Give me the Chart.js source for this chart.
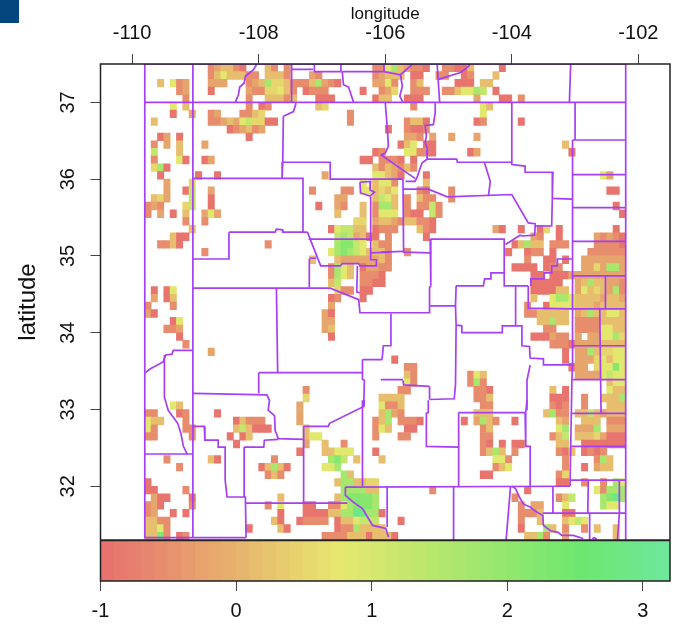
<!DOCTYPE html>
<html>
<head>
<meta charset="utf-8">
<title>latitude / longitude map</title>
<script src="https://cdn.jsdelivr.net/npm/chart.js@4"></script>
<style>
    html, body { margin: 0; padding: 0; background: #fff; }
    #corner { position: absolute; left: 0; top: 0; width: 19px; height: 23px; background: #04477f; }
    canvas { position: absolute; left: 0; }
    #mapChart { top: 0; }
    #scaleChart { top: 540px; }
</style>
</head>
<body>
<div id="corner"></div>
<canvas id="mapChart" width="679" height="540"></canvas>
<canvas id="scaleChart" width="679" height="87"></canvas>
<script>
// tick labels
const lonTicks = [-110, -108, -106, -104, -102];
const latTicks = [32, 33, 34, 35, 36, 37];
const scaleTicks = [-1, 0, 1, 2, 3];

// cell grid: 0.1 degree cells, col 0 is at westEdge, row 0 is at northEdge
const westEdge = -109.8;
const northEdge = 37.5;
const cellSize = 0.1;

// a digit in cellRows is an index into this list
const levelValues = [-0.9, -0.55, -0.2, 0.15, 0.5, 0.85, 1.3, 1.7, 2.2, 2.9];

// one string per row, "col:digits" runs
const cellRows = [
    "10:123310 19:31 22:1 36:11 38:57 40:32 42:11 44:0 47:1100 51:3 56:0",
    "10:135333 16:11 19:3 20:33 22:1 26:21 36:12 38:33 40:3 42:00 46:11 50:01 55:3",
    "2:3 4:5 5:12 10:222 16:1 17:2 18:3 19:7 20:44 22:3 23:111 26:3 27:7 28:2 29:10 36:2 37:2 38:5 39:1 42:13 49:000 53:33",
    "5:12 10:0 16:2 17:1 18:1 19:44 21:5 22:3 23:1 25:0 26:11 28:1 34:0 37:12 39:4 42:111 47:11 49:3 50:55 52:7 53:6 55:0",
    "6:1 16:1 19:33 21:3 22:1 23:3 27:000 36:0 37:33 41:000 52:2 56:00 59:1",
    "4:5 6:3 16:1 18:01 27:34 42:1 53:5 54:3",
    "4:0 7:2 10:12 15:11 17:34 32:1 53:5",
    "1:3 10:112 13:32 15:5 16:6 17:44 19:00 32:1 41:1 42:33 44:0 52:01 59:0",
    "13:01 15:2 16:3 17:1 18:2 38:0 41:1 42:00 44:1",
    "2:0 3:2 5:0 16:0 41:22 43:1 45:2 48:2 52:2",
    "1:1 3:2 5:3 9:2 40:0 41:3 42:5 44:00 66:3",
    "1:6 5:3 36:01 41:55 43:11 45:0 51:02 67:0",
    "1:1 5:5 6:0 9:0 10:2 34:00 37:1 38:110 42:0",
    "1:4 2:7 3:0 36:31 38:321 41:3 42:1",
    "2:0 8:0 11:0 28:2 36:5 37:5 38:3 39:2 40:0 44:0 72:52",
    "3:2 7:4 34:5 36:3 37:55 39:1 44:3",
    "3:2 6:0 7:6 10:2 26:1 31:11 34:55 36:3 37:4 38:3 39:5 43:10 48:1 73:00",
    "1:34 3:2 7:6 10:0 30:22 36:3 37:6 38:5 39:3 41:1 43:3 44:1 45:1 48:1",
    "0:121 6:46 10:0 27:0 30:21 34:3 36:1 37:77 39:3 41:1 43:11 45:6 46:1 74:0",
    "0:1 2:2 4:0 6:3 9:252 30:3 34:3 36:1 37:555 41:1 42:00 45:6 46:1 75:0",
    "6:1 9:1 33:44 36:2 37:33 39:2 40:1 41:33 43:11 45:0",
    "7:3 29:0 30:566 33:33 36:0 37:11 39:1 43:3 44:1 45:0 55:20 59:0 62:0 63:4 65:0 74:0",
    "4:3 5:00 30:676 33:23 35:00 38:1 44:0 61:21 65:0 71:21210",
    "2:11 4:3 5:0 19:1 30:7 31:88 33:6 34:5 36:3 37:11 58:0 59:3 60:7 61:33 64:11 66:1 71:11110",
    "9:1 29:5 30:7 31:8 32:7 33:6 34:5 35:33 37:31 41:1 57:0 60:011 64:0 70:111111",
    "26:3 30:322 33:222 36:2 37:3 38:1 60:1 63:00 66:0 69:2222222",
    "29:1 30:7 31:5 32:3 34:0 35:2 36:2 37:1 38:1 58:0000 63:011 69:22 71:4 72:2 73:77 75:2",
    "29:1 30:7 31:5 32:3 34:11 36:10 61:00 64:000 67:222222222",
    "29:3 30:6 34:11 36:00 61:00000 68:23733221",
    "1:0 3:0 4:5 30:4 31:11 34:00 61:0000 65:33 68:2 69:5 70:3 71:4 72:3 73:2 74:7 75:1",
    "1:2 3:0 4:3 29:0 30:1 34:0 61:3 64:5 65:77 67:5 68:33332332",
    "0:1 4:1 29:2 60:1 63:0 64:5555 68:33323333",
    "0:2 1:0 28:2 29:0 60:11 62:3333 66:3 68:2 69:3 70:7 71:3 72:3 73:55 75:3",
    "4:0 5:5 28:22 62:33 64:7 65:33 68:1111 72:3333",
    "3:11 5:2 28:23 63:11 68:1111 72:55 74:33",
    "5:0 29:0 61:000 64:2 65:11 68:2 70:2 71:2 72:55 74:7 75:4",
    "6:1 64:111 67:0 68:2222 72:3 73:333",
    "10:2 66:0 68:22 70:7 71:3 72:44 74:55",
    "39:0 66:0 68:222 71:4 72:5 73:3 74:55",
    "41:11 67:0 68:22 71:4 72:55 74:8 75:5",
    "41:31 51:1 52:5 53:3 68:2222 72:5 73:6 74:55",
    "41:51 51:1 52:7 53:1 73:3 74:5 75:5",
    "25:1 40:11 52:11 54:0 64:3 66:0 73:5 74:3 75:3",
    "25:4 37:3333 52:11 54:3 64:000 69:1 72:333 75:7",
    "4:5 5:3 24:2 37:5 38:1 39:1 40:3 53:11 64:101 69:1 73:333",
    "0:11 5:01 11:0 24:2 37:3 38:7 39:2 40:1 52:333 63:3 64:7 65:11 68:33 70:6 71:3 72:2 73:333",
    "0:5 1:3 2:3 6:1 14:0 15:3 16:111 24:2 36:1 37:3 38:7 40:111 43:0 50:0 52:2 53:7 54:3 55:1 58:0 65:3 66:2 69:333 73:111",
    "0:5 1:1 6:11 14:3 15:6 16:3 17:000 25:3 36:1 37:5 38:3 41:00 53:13 65:5 66:7 68:222 71:7 73:222",
    "0:11 7:1 13:0 15:0 16:3 25:3 26:55 36:1 40:11 53:11 64:1 65:3 66:6 68:333 71:4 72:2 73:000",
    "14:0 25:2 28:3 31:1 53:1 54:0 56:0 58:00 65:33 69:0000000",
    "24:0 28:33555 36:0 53:1 54:3 55:7 56:3 58:1 65:1 66:0 67:3 69:0101",
    "3:1 10:30 20:1 29:7 30:8 31:6 33:3 37:3 55:55 57:1 66:1 71:1 72:7 73:3",
    "5:1 18:0 19:3 20:7 21:3 22:0 28:55 30:7 55:1 56:3 57:5 66:1 69:0 71:2 72:33",
    "19:1 20:3 21:1 31:7 32:3 53:00 65:1 66:4",
    "0:0 30:3 31:77 33:3344 65:00 69:1 72:1 74:7 75:5",
    "0:00 6:1 31:777 34:7 35:33 45:1 60:0 71:5 72:1 73:777",
    "1:200 7:0 21:3 30:3 31:7 32:8888 36:7 58:1 65:13 67:6 72:7 73:89 75:7",
    "0:120 7:1 19:1 21:5 25:00 29:11 31:5 32:7 33:888 36:7 59:1 61:22 66:5 72:7 73:55",
    "0:12 4:0 6:0 21:0 25:0000 29:33 31:77 33:99 35:77 37:0 59:1 60:113 66:00",
    "0:33 2:11 20:3 21:0 24:01111 30:0 31:33 33:5 34:6 35:66 40:0 59:1 62:3 66:3 67:5 68:6 69:5",
    "0:33 2:5 3:1 16:0 21:3 22:0 30:011 33:7 34:333 37:3 59:0 63:73 66:1 69:1 71:3 74:3",
    "0:33 2:8 3:1 5:01 28:1111 32:333 35:0 36:333 39:0 60:33 62:7 63:1 66:2 74:3",
];

// county and state borders, "lon,lat lon,lat ..."
const borderLines = [
    "-109.80,37.50 -109.80,31.33 -108.20,31.33",
    "-109.80,37.50 -102.20,37.50 -102.20,31.30",
    "-109.80,37.00 -102.20,37.00",
    "-109.04,37.50 -109.04,31.33",
    "-108.03,37.50 -108.08,37.43 -108.21,37.34 -108.23,37.25 -108.30,37.20 -108.32,37.10 -108.37,37.00",
    "-107.48,37.50 -107.48,37.00",
    "-107.48,37.43 -107.14,37.43",
    "-107.12,37.50 -107.12,37.40 -106.70,37.40 -106.70,37.50",
    "-106.68,37.40 -106.66,37.23 -106.58,37.20 -106.50,37.00",
    "-106.68,37.40 -106.02,37.40 -105.76,37.36 -105.58,37.49",
    "-106.02,37.50 -106.02,37.40",
    "-105.76,37.36 -105.73,37.21 -105.77,37.08 -105.72,37.00",
    "-105.18,37.50 -105.14,37.00",
    "-105.16,37.30 -104.81,37.39 -104.68,37.47 -104.66,37.50",
    "-104.00,37.00 -104.00,36.19 -103.79,36.17 -103.79,36.09 -103.35,36.09 -103.36,35.75 -103.04,35.74",
    "-103.07,37.50 -103.09,37.00",
    "-103.00,37.00 -103.00,36.51",
    "-103.04,36.51 -102.20,36.51",
    "-103.04,36.51 -103.04,33.58 -103.05,33.39 -103.08,32.00",
    "-103.04,36.06 -102.20,36.06",
    "-103.04,35.63 -102.20,35.63",
    "-103.04,35.19 -102.20,35.19",
    "-103.04,34.74 -102.20,34.74",
    "-103.04,34.31 -102.20,34.31",
    "-103.04,33.83 -102.20,33.83",
    "-103.04,33.39 -102.20,33.39",
    "-103.05,32.95 -102.20,32.95",
    "-103.06,32.52 -102.20,32.52",
    "-103.07,32.08 -102.21,32.08",
    "-103.51,31.65 -102.20,31.65",
    "-102.52,34.74 -102.52,34.31",
    "-102.61,34.31 -102.59,32.95",
    "-102.30,32.08 -102.30,31.65 -102.33,31.30",
    "-102.79,32.08 -102.80,31.65",
    "-102.77,31.65 -102.77,31.30",
    "-103.35,32.00 -103.35,31.65",
    "-106.63,31.99 -103.08,32.00",
    "-104.92,32.00 -104.92,31.30",
    "-104.02,32.00 -104.09,31.30",
    "-105.97,32.00 -105.97,31.47",
    "-104.00,32.00 -103.94,31.97 -103.88,31.86 -103.82,31.77 -103.71,31.73 -103.60,31.66 -103.51,31.62 -103.50,31.49 -103.39,31.42 -103.27,31.40 -103.21,31.36 -103.03,31.36 -102.87,31.32",
    "-102.73,31.32 -102.69,31.33 -102.66,31.31",
    "-104.84,32.96 -103.79,32.96",
    "-104.84,32.96 -104.84,32.00",
    "-103.79,32.96 -103.78,32.52 -103.71,32.52 -103.71,32.00",
    "-105.32,33.12 -105.32,32.96 -105.35,32.95 -105.35,32.52 -104.84,32.51",
    "-103.76,33.12 -103.78,32.96",
    "-105.72,35.87 -105.32,35.87 -105.02,35.77 -104.00,35.80 -103.74,35.43 -103.63,35.42 -103.63,35.39 -103.37,35.39 -103.36,35.74",
    "-103.63,35.39 -103.64,35.27 -103.84,35.26 -103.87,35.27 -104.10,35.15",
    "-105.29,35.22 -104.12,35.22 -104.12,34.61 -103.74,34.61",
    "-105.29,35.22 -105.28,34.61 -105.30,34.59 -105.30,34.35",
    "-105.30,34.35 -104.89,34.35",
    "-104.88,34.61 -104.45,34.61 -104.43,34.70 -104.33,34.70 -104.33,34.78 -104.12,34.78",
    "-104.88,34.61 -104.89,34.35 -104.88,34.10 -104.79,34.09 -104.79,34.00 -104.15,34.00 -104.15,34.09 -103.84,34.09 -103.84,33.83 -103.72,33.82 -103.71,33.67 -103.50,33.66 -103.50,33.58 -103.04,33.58",
    "-103.94,34.61 -103.94,34.09",
    "-104.88,34.09 -104.89,33.32 -104.91,33.14 -105.30,33.13",
    "-105.30,33.30 -105.30,33.13",
    "-105.72,33.38 -105.71,33.32 -105.30,33.30",
    "-106.07,33.39 -105.72,33.39",
    "-105.91,34.25 -105.91,33.83 -106.03,33.83 -106.05,33.65",
    "-106.36,33.65 -106.05,33.65",
    "-109.04,34.58 -106.87,34.58 -106.42,34.43 -106.40,34.26 -105.30,34.26 -105.30,34.35",
    "-103.71,33.58 -103.76,33.38 -103.76,32.99",
    "-103.74,34.61 -103.74,34.32 -103.04,34.31",
    "-103.70,34.61 -103.70,34.70 -103.49,34.70 -103.49,34.78 -103.37,34.78 -103.37,34.87 -103.28,34.87 -103.28,34.96 -103.04,34.96",
    "-105.72,36.00 -105.71,35.05 -105.29,35.04",
    "-106.07,35.05 -105.71,35.06",
    "-105.21,36.99 -105.21,36.87 -105.24,36.71 -105.37,36.70 -105.35,36.56 -105.37,36.48 -105.33,36.38 -105.34,36.26",
    "-105.34,36.26 -104.87,36.26 -104.86,36.22 -104.00,36.22",
    "-105.34,36.26 -105.42,36.21 -105.49,36.04 -105.53,35.97 -105.68,35.97",
    "-106.07,36.32 -105.95,36.25 -105.81,36.17 -105.53,36.01",
    "-106.00,37.00 -105.97,36.69 -105.95,36.43 -106.00,36.34 -106.05,36.32 -106.07,36.32",
    "-104.43,36.21 -104.34,35.97 -104.37,35.78",
    "-107.61,36.82 -107.45,36.88 -107.41,36.99",
    "-107.61,36.82 -107.62,36.22 -107.63,36.01",
    "-107.62,36.22 -106.87,36.22 -106.87,36.00 -105.72,36.00",
    "-109.04,36.01 -107.30,36.01 -107.30,35.31",
    "-108.47,35.31 -107.74,35.31 -107.72,35.35 -107.62,35.34 -107.62,35.31 -107.23,35.31",
    "-108.47,35.31 -108.47,34.96 -109.04,34.96",
    "-107.23,35.31 -107.02,34.87 -106.71,34.87 -106.68,34.90 -106.42,34.90 -106.40,34.87 -106.14,34.87 -106.14,34.95 -106.23,34.95 -106.23,35.77",
    "-107.21,35.22 -106.24,35.22",
    "-107.20,34.96 -107.20,34.59",
    "-107.20,34.97 -107.09,34.97",
    "-107.72,34.58 -107.70,33.48",
    "-108.00,33.48 -106.36,33.48",
    "-108.00,33.48 -108.00,33.21",
    "-109.04,33.21 -107.87,33.19 -107.83,33.12 -107.85,32.99 -107.75,32.92 -107.74,32.73 -107.69,32.62 -107.29,32.61",
    "-108.23,32.51 -107.92,32.51 -107.91,32.60 -107.69,32.61",
    "-108.23,32.51 -108.23,31.86",
    "-109.04,32.78 -108.86,32.78 -108.85,32.60 -108.64,32.60 -108.64,32.51 -108.53,32.51 -108.53,32.08 -108.50,31.86 -108.21,31.86 -108.20,31.33",
    "-107.29,32.78 -107.29,31.78",
    "-107.29,32.78 -106.90,32.78 -106.88,32.82 -106.34,33.04 -106.33,33.12",
    "-106.36,33.65 -106.36,33.39 -106.33,33.38 -106.34,33.04",
    "-106.36,33.12 -106.36,32.00",
    "-106.44,34.87 -106.45,34.53 -106.40,34.52",
    "-106.23,35.04 -105.92,35.05",
    "-109.79,33.48 -109.71,33.53 -109.51,33.62 -109.47,33.71 -109.37,33.72 -109.35,33.77 -109.04,33.77",
    "-109.49,33.71 -109.49,33.16 -109.43,32.99 -109.28,32.82 -109.23,32.69 -109.19,32.52 -109.13,32.42",
    "-109.80,32.42 -109.04,32.42",
    "-108.20,31.78 -106.60,31.78",
    "-106.63,31.99 -106.63,31.88 -106.50,31.79 -106.36,31.71 -106.28,31.60 -106.20,31.49 -105.99,31.45 -105.95,31.34",
    "-106.40,35.96 -106.23,35.97 -106.24,35.86 -106.17,35.83 -106.24,35.78 -106.39,35.82 -106.40,35.96",
];

// colour bar bands, value at the left edge of each band
const scaleBands = [
    -1.0, -0.9, -0.8, -0.7, -0.6, -0.5, -0.4, -0.3, -0.2, -0.1,
    0.0, 0.1, 0.2, 0.3, 0.4, 0.5, 0.6, 0.7, 0.8, 0.9,
    1.0, 1.1, 1.2, 1.3, 1.4, 1.5, 1.6, 1.7, 1.8, 1.9,
    2.0, 2.1, 2.2, 2.3, 2.4, 2.5, 2.6, 2.7, 2.8, 2.9,
    3.0, 3.1,
];

// translucent rainbow running from red through yellow to green
function valueColor(v) {
    const hue = (v + 1) * 34;
    return `hsl(${hue}, 72%, 67%)`;
}

// turn the run strings into floating bars
const cells = [];
const cellColors = [];
cellRows.forEach((row, r) => {
    row.split(" ").forEach((run) => {
        const [start, digits] = run.split(":");
        [...digits].forEach((d, i) => {
            const col = Number(start) + i;
            cells.push({
                x: westEdge + (col + 0.5) * cellSize,
                y: [northEdge - (r + 1) * cellSize, northEdge - r * cellSize],
            });
            cellColors.push(valueColor(levelValues[Number(d)]));
        });
    });
});

const borderDatasets = borderLines.map((line) => ({
    type: "line",
    data: line.split(" ").map((p) => {
        const [x, y] = p.split(",").map(Number);
        return { x, y };
    }),
    borderColor: "#a63ff2",
    borderWidth: 1.7,
    pointRadius: 0,
    tension: 0,
    order: 0,
}));

// black box round the plot area
const framePlugin = {
    id: "frame",
    afterDraw(chart) {
        const a = chart.chartArea;
        const ctx = chart.ctx;
        ctx.save();
        ctx.strokeStyle = "#222";
        ctx.lineWidth = 1.5;
        ctx.strokeRect(a.left, a.top, a.right - a.left, a.bottom - a.top);
        ctx.restore();
    },
};

const tickFont = { family: "'Liberation Sans', Arial, sans-serif", size: 20 };

// the rotated y labels ask for room at both ends, drop that so the plot fills the canvas
function fixLeftAxis(s) {
    s.width = 100.5;
    s.paddingTop = 0;
    s.paddingBottom = 0;
}

new Chart(document.getElementById("mapChart"), {
    type: "bar",
    data: {
        datasets: [
            {
                data: cells,
                backgroundColor: cellColors,
                barThickness: 6.33,
                borderWidth: 0,
                order: 1,
            },
            ...borderDatasets,
        ],
    },
    options: {
        responsive: false,
        animation: false,
        events: [],
        layout: { padding: { top: 0, right: 9, bottom: 0, left: 0 } },
        plugins: { legend: { display: false }, tooltip: { enabled: false } },
        scales: {
            x: {
                type: "linear",
                position: "top",
                min: -110.5,
                max: -101.5,
                offset: false,
                afterBuildTicks(s) { s.ticks = lonTicks.map((value) => ({ value })); },
                afterFit(s) { s.height = 64; s.paddingLeft = 0; s.paddingRight = 0; },
                grid: { offset: false, drawOnChartArea: false, tickLength: 10, tickColor: "#444" },
                border: { display: false },
                ticks: { font: tickFont, color: "#111", padding: 9, maxRotation: 0, autoSkip: false },
                title: {
                    display: true,
                    text: "longitude",
                    color: "#111",
                    font: { family: tickFont.family, size: 17 },
                    padding: { top: 4, bottom: 0 },
                },
            },
            y: {
                type: "linear",
                min: 31.3,
                max: 37.5,
                afterBuildTicks(s) { s.ticks = latTicks.map((value) => ({ value })); },
                afterFit: fixLeftAxis,
                grid: { drawOnChartArea: false, tickLength: 10, tickColor: "#444" },
                border: { display: false },
                ticks: {
                    font: tickFont,
                    color: "#111",
                    padding: 11,
                    minRotation: 90,
                    maxRotation: 90,
                    crossAlign: "center",
                    autoSkip: false,
                },
                title: {
                    display: true,
                    text: "latitude",
                    color: "#111",
                    font: { family: tickFont.family, size: 24 },
                    padding: { top: 14, bottom: 0 },
                },
            },
        },
    },
    plugins: [framePlugin],
});

new Chart(document.getElementById("scaleChart"), {
    type: "bar",
    data: {
        datasets: [
            {
                data: scaleBands.map((v) => ({ x: v + 0.05, y: [0, 1] })),
                backgroundColor: scaleBands.map((v) => valueColor(v + 0.05)),
                barThickness: 14,
                borderWidth: 0,
            },
        ],
    },
    options: {
        responsive: false,
        animation: false,
        events: [],
        layout: { padding: { top: 0.5, right: 9, bottom: 0, left: 0 } },
        plugins: { legend: { display: false }, tooltip: { enabled: false } },
        scales: {
            x: {
                type: "linear",
                min: -1,
                max: 3.2,
                offset: false,
                afterBuildTicks(s) { s.ticks = scaleTicks.map((value) => ({ value })); },
                afterFit(s) { s.height = 46; s.paddingLeft = 0; s.paddingRight = 0; },
                grid: { offset: false, drawOnChartArea: false, tickLength: 10, tickColor: "#444" },
                border: { display: false },
                ticks: { font: tickFont, color: "#111", padding: 8, maxRotation: 0, autoSkip: false },
            },
            y: {
                type: "linear",
                min: 0,
                max: 1,
                afterFit(s) { s.width = 100.5; },
                grid: { display: false },
                border: { display: false },
                ticks: { display: false },
            },
        },
    },
    plugins: [framePlugin],
});
</script>
</body>
</html>
